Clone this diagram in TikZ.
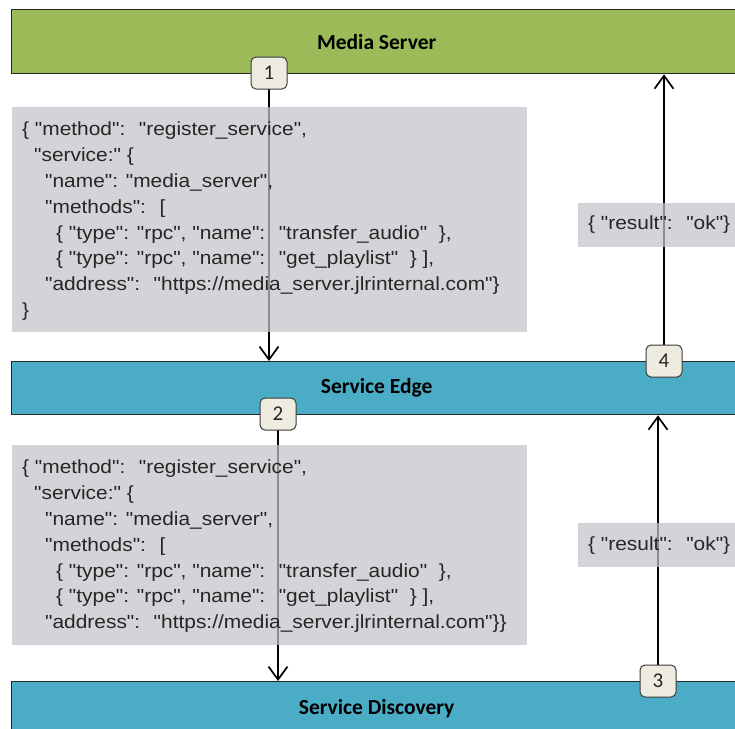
\documentclass[tikz,border=0pt]{standalone}
\usepackage{fontspec}
\usetikzlibrary{arrows.meta}
\newfontfamily\codefont[FakeStretch=1.1]{Liberation Sans}
\newfontfamily\tierfont{Carlito}
\definecolor{servergreen}{HTML}{9BBB59}
\definecolor{edgeblue}{HTML}{4BACC6}
\definecolor{notegrey}{RGB}{194,196,200}
\definecolor{badgefill}{HTML}{EEECE1}
\definecolor{inkgrey}{HTML}{262626}
\pgfdeclarelayer{tiers}
\pgfdeclarelayer{links}
\pgfsetlayers{tiers,links,main}
\begin{document}
\begin{tikzpicture}[x=1pt,y=-1pt,
  tier/.style={draw=inkgrey, line width=1.3pt, anchor=north west,
    minimum width=730pt, inner sep=0pt,
    font=\tierfont\bfseries\fontsize{21.5}{24}\selectfont, text=black},
  note/.style={fill=notegrey, fill opacity=0.72, draw=none, anchor=north west, inner sep=0pt},
  codetext/.style={anchor=north west, inner sep=0pt, align=left, text=inkgrey,
    font=\codefont\fontsize{19}{25.8}\selectfont},
  badge/.style={draw=inkgrey!90, line width=1pt, fill=badgefill, rounded corners=5pt,
    minimum width=36pt, minimum height=32pt, inner sep=0pt, text=inkgrey,
    font=\tierfont\fontsize{21}{24}\selectfont},
  flow/.style={draw=black, line width=1.7pt, -{Straight Barb[length=13pt,width=19pt,line width=1.7pt]}}
]
\useasboundingbox (0,0) rectangle (735,728);
\clip (0,0) rectangle (735,728);

% the three tiers
\begin{pgfonlayer}{tiers}
  \node[tier, fill=servergreen, minimum height=64pt] (ms) at (11,9) {Media Server};
  \node[tier, fill=edgeblue, minimum height=53pt] (se) at (11,361) {Service Edge};
  \node[tier, fill=edgeblue, minimum height=54pt] (sd) at (11,681) {Service Discovery};
\end{pgfonlayer}

% message payloads
\node[note, minimum width=515pt, minimum height=225pt] (req1) at (12,107) {};
\node[codetext] (req1text) at (22,122) {%
\{ "method":~ "register\_service",\\
\hspace*{12pt}"service:" \{\\
\hspace*{23pt}"name": "media\_server",\\
\hspace*{23pt}"methods":~ [\\
\hspace*{34pt}\{ "type": "rpc", "name":~ "transfer\_audio"~ \},\\
\hspace*{34pt}\{ "type": "rpc", "name":~ "get\_playlist"~ \} ],\\
\hspace*{23pt}"address":~ "https://media\_server.jlrinternal.com"\}\\
\}};

\node[note, minimum width=515pt, minimum height=200pt] (req2) at (12,445) {};
\node[codetext] (req2text) at (22,460) {%
\{ "method":~ "register\_service",\\
\hspace*{12pt}"service:" \{\\
\hspace*{23pt}"name": "media\_server",\\
\hspace*{23pt}"methods":~ [\\
\hspace*{34pt}\{ "type": "rpc", "name":~ "transfer\_audio"~ \},\\
\hspace*{34pt}\{ "type": "rpc", "name":~ "get\_playlist"~ \} ],\\
\hspace*{23pt}"address":~ "https://media\_server.jlrinternal.com"\}\}};

\node[note, minimum width=170pt, minimum height=44pt] (res1) at (578,203) {};
\node[codetext, anchor=west] (res1text) at (588,225) {\{ "result":~ "ok"\}};
\node[note, minimum width=170pt, minimum height=44pt] (res2) at (578,523) {};
\node[codetext, anchor=west] (res2text) at (588,546) {\{ "result":~ "ok"\}};

% step markers
\node[badge] (b1) at (269,73) {1};
\node[badge] (b2) at (278,414) {2};
\node[badge] (b3) at (658,681) {3};
\node[badge] (b4) at (664,361) {4};

% message flow
\begin{pgfonlayer}{links}
  \draw[flow] (b1.center) -- (b1 |- se.north);
  \draw[flow] (b2.center) -- (b2 |- sd.north);
  \draw[flow] (b3.center) -- (b3 |- se.south);
  \draw[flow] (b4.center) -- (b4 |- ms.south);
\end{pgfonlayer}
\end{tikzpicture}
\end{document}
